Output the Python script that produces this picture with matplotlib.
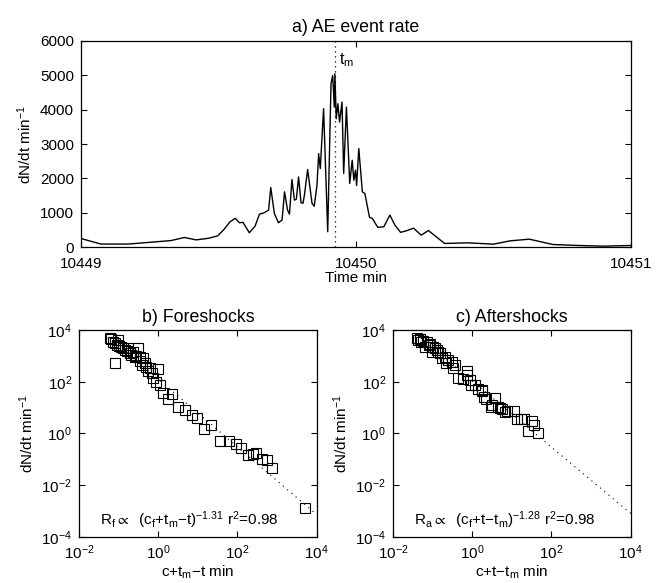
import numpy as np
import matplotlib
matplotlib.use("Agg")
import matplotlib.pyplot as plt

plt.rcParams['font.family'] = ['Liberation Sans', 'DejaVu Sans']
plt.rcParams['mathtext.fontset'] = 'custom'
plt.rcParams['mathtext.rm'] = 'Liberation Sans'
plt.rcParams['mathtext.it'] = 'Liberation Sans'
plt.rcParams['mathtext.default'] = 'regular'
plt.rcParams['font.size'] = 11

# a) AE event rate: time offset from 10449 min, rate
t_off = [0.000, 0.072, 0.173, 0.327, 0.376, 0.419, 0.466, 0.497, 0.518, 0.542,
         0.561, 0.576, 0.589, 0.612, 0.633, 0.649, 0.666, 0.682, 0.690, 0.703,
         0.718, 0.731, 0.740, 0.751, 0.758, 0.767, 0.776, 0.783, 0.791, 0.800,
         0.807, 0.812, 0.824, 0.840, 0.848, 0.858, 0.864, 0.870, 0.882, 0.897,
         0.909, 0.915, 0.921, 0.923, 0.928, 0.934, 0.940, 0.949, 0.955, 0.965,
         0.977, 0.986, 0.992, 0.998, 1.002, 1.010, 1.023, 1.032, 1.049, 1.059,
         1.079, 1.101, 1.123, 1.141, 1.162, 1.184, 1.209, 1.237, 1.263, 1.322,
         1.406, 1.499, 1.561, 1.630, 1.715, 1.807, 1.900, 2.000]
rate = [260, 100, 100, 200, 290, 220, 270, 338, 506, 746,
        844, 717, 728, 428, 621, 968, 1005, 1084, 1740, 988,
        717, 795, 1613, 1084, 968, 1971, 1373, 1400, 2046, 1300,
        1280, 1500, 2260, 1277, 1199, 1806, 2722, 2289, 4023, 457,
        4746, 4986, 4070, 5035, 3734, 4167, 3636, 4214, 2144, 4070,
        1855, 2529, 1951, 2240, 1797, 2867, 1613, 1566, 873, 844,
        584, 601, 939, 650, 439, 486, 560, 357, 492, 116,
        135, 96, 193, 241, 87, 58, 39, 58]
t0 = 10449
t_main = 10449.925

# b) foreshocks, log10 of (c+tm-t) and log10 rate
fore_lx = [-1.22, -1.20, -1.01, -1.10, -0.93, -0.85, -0.76, -0.72, -0.64, -0.59,
           -0.51, -0.47, -0.38, -0.42, -0.34, -0.30, -0.21, 0.00, -0.17, -0.13,
           -0.06, 0.04, -1.15, -1.08, -1.05, -0.98, -0.90, -0.80, -0.68, -0.55,
           -0.45, -0.25, 0.12, 0.34, 0.25, 0.50, 0.67, 0.84, 0.97, 1.15,
           1.32, 1.56, 1.78, 1.96, 2.08, 2.26, 2.47, 2.40, 2.61, 2.74,
           2.86, 3.70]
fore_ly = [3.70, 3.66, 3.61, 2.71, 3.35, 3.23, 3.29, 3.10, 3.16, 2.97,
           3.29, 2.97, 2.90, 2.65, 2.71, 2.58, 2.52, 2.49, 2.32, 2.13,
           2.00, 1.87, 3.55, 3.50, 3.42, 3.40, 3.30, 3.20, 3.05, 3.00,
           2.80, 2.40, 1.55, 1.52, 1.33, 1.03, 0.92, 0.72, 0.60, 0.19,
           0.32, -0.30, -0.30, -0.41, -0.56, -0.84, -0.75, -0.78, -0.97, -1.03,
           -1.35, -2.90]

# c) aftershocks, log10 of (c+t-tm) and log10 rate
after_lx = [-1.40, -1.32, -1.24, -1.15, -1.07, -1.19, -0.98, -0.90, -1.02, -0.82,
            -0.77, -0.69, -0.61, -0.52, -0.65, -0.44, -0.48, -0.14, -0.35, -0.23,
            -0.06, -0.13, -0.02, 0.15, 0.24, 0.30, 0.57, 0.49, 0.70, 0.82,
            0.07, 0.26, 0.36, 0.47, 0.66, 0.76, 0.87, 1.05, 1.12, 1.30,
            1.22, 1.50, 1.56, 1.41, 1.66, -1.36, -1.28, -1.10, -0.95, -0.86]
after_ly = [3.70, 3.65, 3.59, 3.52, 3.45, 3.36, 3.36, 3.23, 3.16, 3.10,
            2.91, 2.97, 2.84, 2.78, 2.71, 2.65, 2.54, 2.42, 2.13, 2.11,
            2.07, 2.26, 1.88, 1.71, 1.68, 1.42, 1.39, 1.10, 1.00, 0.82,
            1.88, 1.66, 1.32, 1.02, 1.02, 0.94, 0.85, 0.85, 0.55, 0.55,
            0.55, 0.50, 0.33, 0.11, 0.03, 3.62, 3.55, 3.42, 3.30, 3.15]

fore_fit = (2.10, -1.31)
after_fit = (2.03, -1.28)

fig = plt.figure(figsize=(6.66, 5.83), dpi=100)

def style(ax, xpad=5):
    ax.tick_params(direction='in', top=True, right=True, length=4, width=0.8,
                   pad=5, labelsize=11)
    ax.tick_params(axis='x', pad=xpad)
    ax.tick_params(which='minor', length=0)
    for s in ax.spines.values():
        s.set_linewidth(0.9)

# top panel
ax = fig.add_axes([0.1216, 0.5755, 0.826, 0.355])
ax.plot(t0 + np.array(t_off), rate, color='black', lw=1.0)
ax.axvline(t_main, color='black', lw=0.9, linestyle=(0, (1, 3)))
ax.text(t_main + 0.012, 5300, r't$_m$', fontsize=11.5)
ax.set_xlim(10449, 10451)
ax.set_ylim(0, 6000)
ax.set_xticks([10449, 10450, 10451])
ax.set_xticklabels(['10449', '10450', '10451'])
ax.set_yticks(range(0, 6001, 1000))
ax.set_title('a) AE event rate', fontsize=12.8, pad=6)
ax.set_xlabel('Time min', labelpad=0)
ax.set_ylabel(r'dN/dt min$^{-1}$')
style(ax, xpad=7)

def loglog_panel(rect, lx, ly, fit, title, xlabel, note):
    ax = fig.add_axes(rect)
    x = np.power(10.0, lx)
    y = np.power(10.0, ly)
    xf = np.logspace(min(lx), 4, 50)
    ax.plot(xf, 10 ** fit[0] * xf ** fit[1], color='black', lw=0.8,
            linestyle=(0, (1, 4)))
    ax.plot(x, y, 's', mfc='none', mec='black', ms=7, mew=0.8)
    ax.set_xscale('log')
    ax.set_yscale('log')
    ax.set_xlim(1e-2, 1e4)
    ax.set_ylim(1e-4, 1e4)
    ax.set_xticks([1e-2, 1e0, 1e2, 1e4])
    ax.set_yticks([1e-4, 1e-2, 1e0, 1e2, 1e4])
    ax.set_title(title, fontsize=12.8, pad=6)
    ax.set_xlabel(xlabel, labelpad=1)
    ax.set_ylabel(r'dN/dt min$^{-1}$')
    ax.text(0.09, 0.06, note, transform=ax.transAxes, fontsize=11)
    style(ax)
    return ax

loglog_panel([0.1186, 0.079, 0.357, 0.355], fore_lx, fore_ly, fore_fit,
             'b) Foreshocks', r'c+t$_m$$-$t min',
             r'R$_f$$\propto$  (c$_f$+t$_m$$-$t)$^{-1.31}$ r$^2$=0.98')
loglog_panel([0.590, 0.079, 0.357, 0.355], after_lx, after_ly, after_fit,
             'c) Aftershocks', r'c+t$-$t$_m$ min',
             r'R$_a$$\propto$  (c$_f$+t$-$t$_m$)$^{-1.28}$ r$^2$=0.98')

fig.savefig('out.png', dpi=100)
